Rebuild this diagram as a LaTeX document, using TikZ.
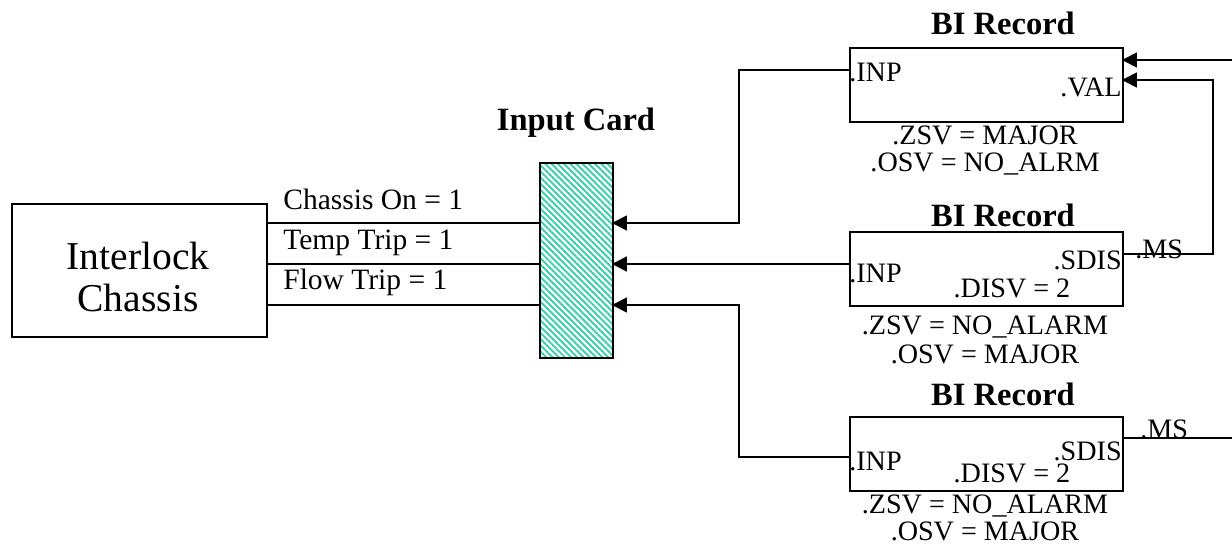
\documentclass[tikz,border=0pt]{standalone}
\usepackage{fontspec}
\setmainfont{Liberation Serif}
\usetikzlibrary{arrows.meta, positioning, patterns.meta}
\definecolor{hatchgreen}{RGB}{60,205,170}

\begin{document}
\begin{tikzpicture}[
  x=0.02cm, y=-0.02cm,
  blk/.style={draw, line width=1pt, anchor=north west, inner sep=0pt},
  rec/.style={blk, minimum width=5.46cm, minimum height=1.48cm},
  title/.style={font=\fontsize{18.5}{20}\selectfont\bfseries, anchor=base, inner sep=0pt},
  lbl/.style={font=\fontsize{16}{18}\selectfont, inner sep=0pt},
  sig/.style={font=\fontsize{16.8}{18}\selectfont, inner sep=0pt, anchor=base west},
  wire/.style={line width=1pt},
  >={Triangle[length=8.5pt,width=8.5pt]}
]
\useasboundingbox (0,0) rectangle (1232,544);

% blocks
\node[blk, minimum width=5.1cm, minimum height=2.66cm] (chassis) at (11,203) {};
\node[align=center, font=\fontsize{22.5}{24}\selectfont] (chassisTxt) at (138,277) {Interlock\\Chassis};
\node[blk, minimum width=1.46cm, minimum height=3.9cm,
  pattern={Lines[angle=-45,distance=2.5pt,line width=1.1pt]},
  pattern color=hatchgreen] (card) at (539,162) {};
\node[rec] (recA) at (849,47)  {};
\node[rec] (recB) at (849,231) {};
\node[rec] (recC) at (849,416) {};

% titles
\node[title] (tCard) at (576,131)  {Input Card};
\node[title] (tA)    at (1003,35)  {BI Record};
\node[title] (tB)    at (1003,227) {BI Record};
\node[title] (tC)    at (1003,405) {BI Record};

% signal names
\node[sig] (sigOn)   at (283,210) {Chassis On = 1};
\node[sig] (sigTemp) at (283,250) {Temp Trip = 1};
\node[sig] (sigFlow) at (283,290) {Flow Trip = 1};

% record fields
\node[lbl, anchor=base west] (inpTxtA) at (849,82)   {.INP};
\node[lbl, anchor=base east] (valTxtA) at (1122,97)  {.VAL};
\node[lbl, anchor=base west] (inpTxtB) at (849,282)  {.INP};
\node[lbl, anchor=base east] (sdisB)   at (1122,270) {.SDIS};
\node[lbl, anchor=base]      (disvB)   at (1012,297) {.DISV = 2};
\node[lbl, anchor=base west] (msTxtB)  at (1135,258) {.MS};
\node[lbl, anchor=base west] (inpTxtC) at (849,470)  {.INP};
\node[lbl, anchor=base east] (sdisC)   at (1122,460) {.SDIS};
\node[lbl, anchor=base]      (disvC)   at (1012,482) {.DISV = 2};
\node[lbl, anchor=base west] (msTxtC)  at (1140,438) {.MS};

% severities
\node[lbl, anchor=base] (zsvA) at (985,145) {.ZSV = MAJOR};
\node[lbl, anchor=base] (osvA) at (985,172) {.OSV = NO\_ALRM};
\node[lbl, anchor=base] (zsvB) at (985,335) {.ZSV = NO\_ALARM};
\node[lbl, anchor=base] (osvB) at (985,363) {.OSV = MAJOR};
\node[lbl, anchor=base] (zsvC) at (985,513) {.ZSV = NO\_ALARM};
\node[lbl, anchor=base] (osvC) at (985,540) {.OSV = MAJOR};

% ports
\coordinate (pA) at (612,223);
\coordinate (pB) at (612,264);
\coordinate (pC) at (612,305);
\coordinate (inpA) at (849,70);
\coordinate (inpC) at (849,457);
\coordinate (valA) at (1122,80);
\coordinate (extA) at (1122,60);
\coordinate (msB) at (1122,254);
\coordinate (msC) at (1122,438);
\coordinate (loopB) at (1213,254);
\coordinate (farA) at (1232,60);
\coordinate (farC) at (1232,438);

% wires
\draw[wire] (chassis.east |- pA) -- (card.west |- pA);
\draw[wire] (chassis.east |- pB) -- (card.west |- pB);
\draw[wire] (chassis.east |- pC) -- (card.west |- pC);
\draw[wire,->] (inpA) -- ++(-110,0) |- (pA);
\draw[wire,->] (recB.west |- pB) -- (pB);
\draw[wire,->] (inpC) -- ++(-110,0) |- (pC);
\draw[wire,->] (msB) -- (loopB) |- (valA);
\draw[wire,->] (farA) -- (extA);
\draw[wire] (msC) -- (farC);
\end{tikzpicture}
\end{document}
